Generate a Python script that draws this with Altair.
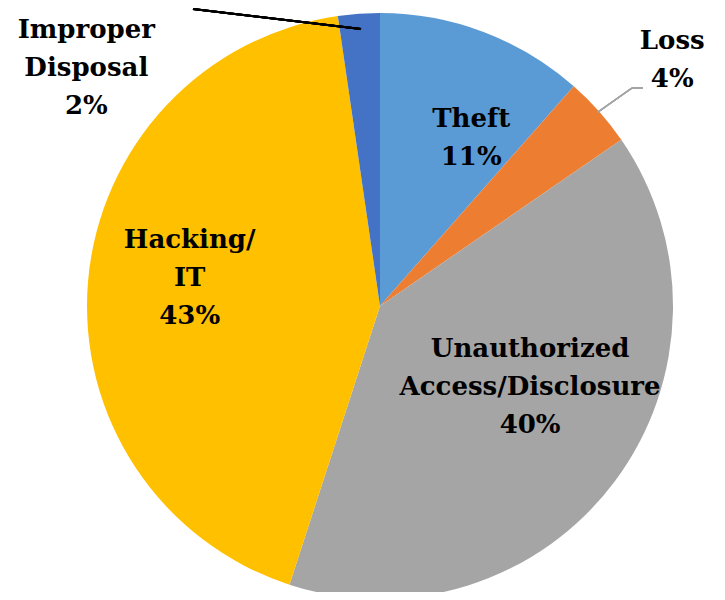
import altair as alt
import pandas as pd

categories = ["Theft", "Loss", "Unauthorized Access/Disclosure", "Hacking/IT", "Improper Disposal"]
values = [11.5, 3.9, 39.6, 42.7, 2.3]
labels = ["Theft\n11%", "Loss\n4%", "Unauthorized\nAccess/Disclosure\n40%", "Hacking/\nIT\n43%", "Improper\nDisposal\n2%"]
colors = ["#5B9BD5", "#ED7D31", "#A5A5A5", "#FFC000", "#4472C4"]

df = pd.DataFrame({
    "category": categories,
    "value": values,
    "label": labels,
    "order": list(range(len(categories))),
})

CX, CY, R = 372, 298, 293
FONT = "DejaVu Serif"

base = alt.Chart(df).encode(
    theta=alt.Theta("value:Q", stack=True),
    order=alt.Order("order:Q"),
)

pie = base.mark_arc(stroke=None).encode(
    x=alt.value(CX), y=alt.value(CY), radius=alt.value(R),
    color=alt.Color("category:N", scale=alt.Scale(domain=categories, range=colors), legend=None),
)

# label placements: (category, radius, dx, dy)
placements = [
    ("Theft", 190, 24, -9),
    ("Loss", 380, 8, -13),
    ("Unauthorized Access/Disclosure", 171, 13, -59),
    ("Hacking/IT", 193, 2, -50),
    ("Improper Disposal", 300, -272, 23),
]

text_layers = []
for cat, r, dx, dy in placements:
    t = base.transform_calculate(
        lab=f"datum.category == '{cat}' ? datum.label : ''"
    ).mark_text(
        font=FONT, fontWeight="bold", fontSize=26,
        color="black", lineBreak="\n", lineHeight=38,
        align="center", baseline="middle", dx=dx, dy=dy,
    ).encode(
        x=alt.value(CX), y=alt.value(CY), radius=alt.value(r),
        text="lab:N",
    )
    text_layers.append(t)

loss_line1 = alt.Chart(df).mark_rule(color="#A5A5A5", strokeWidth=1.5).encode(
    x=alt.value(590), y=alt.value(104), x2=alt.value(624), y2=alt.value(80))
loss_line2 = alt.Chart(df).mark_rule(color="#A5A5A5", strokeWidth=1.5).encode(
    x=alt.value(624), y=alt.value(80), x2=alt.value(635), y2=alt.value(80))
imp_line = alt.Chart(df).mark_rule(color="black", strokeWidth=2).encode(
    x=alt.value(185), y=alt.value(1), x2=alt.value(353), y2=alt.value(21))

chart = alt.layer(pie, *text_layers, loss_line1, loss_line2, imp_line).properties(
    width=709, height=584, padding=0, autosize=alt.AutoSizeParams(type="none")
).configure_view(stroke=None)

chart.save("out.html", embed_options={"renderer": "svg", "actions": False})
